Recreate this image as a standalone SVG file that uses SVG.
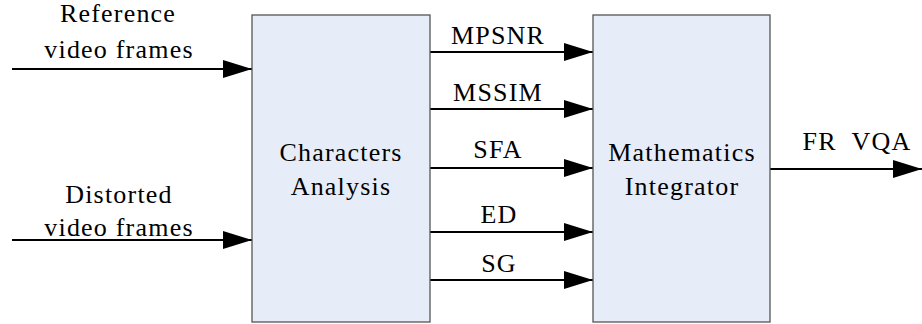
<svg xmlns="http://www.w3.org/2000/svg" width="922" height="324" viewBox="0 0 922 324">
<style>
.t{font-size:26px;fill:#000;text-anchor:middle;letter-spacing:1.2px}
.box{fill:#e7edf8;stroke:#555;stroke-width:1.3}
.ln{stroke:#000;stroke-width:2;fill:none;marker-end:url(#ah)}
</style>
<defs>
<marker id="ah" markerUnits="userSpaceOnUse" markerWidth="29" markerHeight="18" refX="29" refY="9" orient="auto">
<path d="M0,0 L29,9 L0,18 Z" fill="#000"/>
</marker>
</defs>
<g id="connectors">
<line class="ln" x1="12" y1="69" x2="252" y2="69"/>
<line class="ln" x1="12" y1="240" x2="252" y2="240"/>
<line class="ln" x1="430" y1="52" x2="593" y2="52"/>
<line class="ln" x1="430" y1="109" x2="593" y2="109"/>
<line class="ln" x1="430" y1="168" x2="593" y2="168"/>
<line class="ln" x1="430" y1="232" x2="593" y2="232"/>
<line class="ln" x1="430" y1="280" x2="593" y2="280"/>
<line class="ln" x1="770" y1="169" x2="922" y2="169"/>
</g>
<g id="labels" font-family="Times New Roman, Liberation Serif, serif">
<text class="t" font-family="Liberation Serif, Times New Roman, serif" x="118" y="22">Reference</text>
<text class="t" font-family="Liberation Serif, Times New Roman, serif" x="119" y="58">video frames</text>
<text class="t" font-family="Liberation Serif, Times New Roman, serif" x="119" y="203">Distorted</text>
<text class="t" font-family="Liberation Serif, Times New Roman, serif" x="119" y="236">video frames</text>
<text class="t" font-family="Liberation Serif, Times New Roman, serif" x="498" y="44">MPSNR</text>
<text class="t" font-family="Liberation Serif, Times New Roman, serif" x="498" y="101">MSSIM</text>
<text class="t" font-family="Liberation Serif, Times New Roman, serif" x="498" y="158">SFA</text>
<text class="t" font-family="Liberation Serif, Times New Roman, serif" x="499" y="223">ED</text>
<text class="t" font-family="Liberation Serif, Times New Roman, serif" x="499" y="272">SG</text>
<text class="t" font-family="Liberation Serif, Times New Roman, serif" x="857" y="150" xml:space="preserve">FR  VQA</text>
</g>
<g id="characters-analysis">
<rect class="box" x="252" y="15" width="178" height="307"/>
<text class="t" font-family="Liberation Serif, Times New Roman, serif" x="341" y="161">Characters</text>
<text class="t" font-family="Liberation Serif, Times New Roman, serif" x="341" y="195">Analysis</text>
</g>
<g id="mathematics-integrator">
<rect class="box" x="593" y="15" width="177" height="307"/>
<text class="t" font-family="Liberation Serif, Times New Roman, serif" x="682" y="161">Mathematics</text>
<text class="t" font-family="Liberation Serif, Times New Roman, serif" x="682" y="195">Integrator</text>
</g>
</svg>
